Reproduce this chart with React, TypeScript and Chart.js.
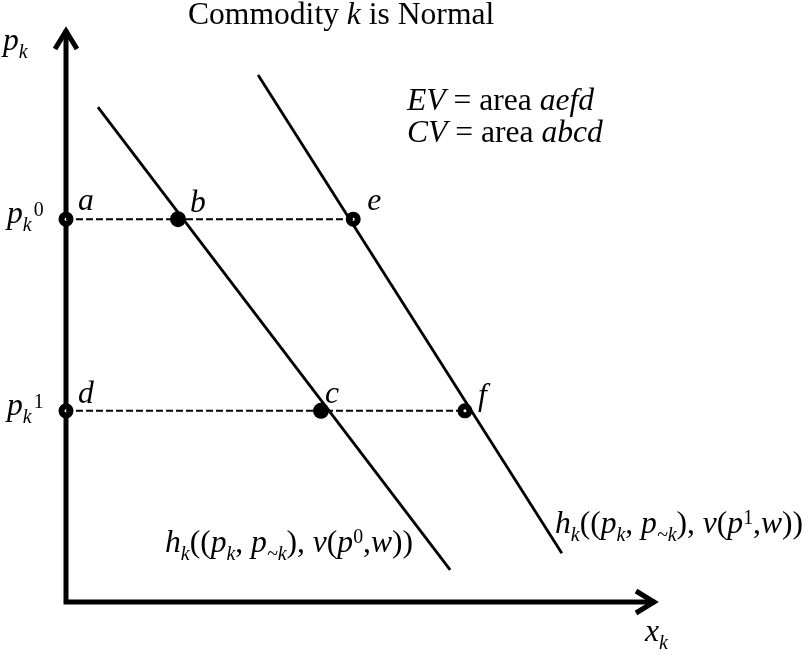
import React, { useEffect, useRef } from "react";
import { Chart, registerables } from "chart.js";

Chart.register(...registerables);

// ---- data (axis units: 0..100 on both axes) ----
const PRICE_P0 = 66.7;
const PRICE_P1 = 33.3;

// Hicksian demand curves (endpoints)
const demandV0X = [5.4, 65.0];
const demandV0Y = [86.2, 5.6];
const demandV1X = [32.5, 83.9];
const demandV1Y = [91.8, 8.5];

// labelled points
const pointNames = ["a", "b", "e", "d", "c", "f"];
const pointX = [0, 18.95, 48.6, 0, 43.15, 67.5];
const pointY = [PRICE_P0, PRICE_P0, PRICE_P0, PRICE_P1, PRICE_P1, PRICE_P1];
const pointFilled = [false, true, false, false, true, false];

// dashed price lines: end x for p0 and p1
const priceLineEnds = [48.6, 67.5];

const FONT = '"Liberation Serif", "Times New Roman", serif';
const BASE = 31.6;
const SMALL = 0.63;

type Run = { t: string; i?: boolean; s?: "sub" | "sup" };

function drawRich(ctx: CanvasRenderingContext2D, x: number, y: number, runs: Run[], size = BASE) {
  let cx = x;
  for (const r of runs) {
    let fs = size;
    let dy = 0;
    if (r.s === "sub") {
      fs = size * SMALL;
      dy = size * 0.26;
    } else if (r.s === "sup") {
      fs = size * SMALL;
      dy = -size * 0.3;
    }
    ctx.font = `${r.i ? "italic " : ""}${fs}px ${FONT}`;
    ctx.fillText(r.t, cx, y + dy);
    cx += ctx.measureText(r.t).width;
  }
}

const pointLabelOffsets: Record<string, [number, number]> = {
  a: [12, -9],
  b: [12, -7],
  e: [14, -9],
  d: [12, -8],
  c: [4, -8],
  f: [13, -6],
};

const hLabel = (sup: string): Run[] => [
  { t: "h", i: true },
  { t: "k", i: true, s: "sub" },
  { t: "((" },
  { t: "p", i: true },
  { t: "k", i: true, s: "sub" },
  { t: ", " },
  { t: "p", i: true },
  { t: "~k", i: true, s: "sub" },
  { t: "), " },
  { t: "v", i: true },
  { t: "(" },
  { t: "p", i: true },
  { t: sup, s: "sup" },
  { t: "," },
  { t: "w", i: true },
  { t: "))" },
];

const diagramPlugin = {
  id: "diagram",
  beforeDatasetsDraw(chart: any) {
    const { ctx, scales } = chart;
    const xs = scales.x;
    const ys = scales.y;
    const x0 = xs.getPixelForValue(0);
    const y0 = ys.getPixelForValue(0);
    const xEnd = xs.getPixelForValue(100);
    const yEnd = ys.getPixelForValue(100);
    ctx.save();
    ctx.strokeStyle = "#000";
    ctx.lineWidth = 5;
    ctx.lineCap = "butt";
    ctx.beginPath();
    ctx.moveTo(x0, yEnd + 2);
    ctx.lineTo(x0, y0);
    ctx.lineTo(xEnd - 2, y0);
    ctx.stroke();
    ctx.lineJoin = "miter";
    // arrow heads
    ctx.beginPath();
    ctx.moveTo(x0 - 11, yEnd + 21);
    ctx.lineTo(x0, yEnd + 3);
    ctx.lineTo(x0 + 11, yEnd + 21);
    ctx.stroke();
    ctx.beginPath();
    ctx.moveTo(xEnd - 21, y0 - 11);
    ctx.lineTo(xEnd - 3, y0);
    ctx.lineTo(xEnd - 21, y0 + 11);
    ctx.stroke();
    ctx.restore();
  },
  afterDatasetsDraw(chart: any) {
    const { ctx, scales } = chart;
    const xs = scales.x;
    const ys = scales.y;
    ctx.save();
    ctx.fillStyle = "#000";
    ctx.textBaseline = "alphabetic";
    ctx.textAlign = "left";
    // title
    drawRich(ctx, 188, 24, [{ t: "Commodity " }, { t: "k", i: true }, { t: " is Normal" }]);
    // axis labels
    drawRich(ctx, 3, 50, [{ t: "p", i: true }, { t: "k", i: true, s: "sub" }]);
    drawRich(ctx, 645, 641, [{ t: "x", i: true }, { t: "k", i: true, s: "sub" }]);
    // price labels
    const priceLabel = (v: number, sup: string) => {
      const py = ys.getPixelForValue(v) + 4;
      ctx.font = `italic ${BASE}px ${FONT}`;
      ctx.fillText("p", 7, py);
      const pw = ctx.measureText("p").width;
      ctx.font = `italic ${BASE * SMALL}px ${FONT}`;
      ctx.fillText("k", 7 + pw, py + 8);
      const kw = ctx.measureText("k").width;
      ctx.font = `${BASE * SMALL}px ${FONT}`;
      ctx.fillText(sup, 7 + pw + kw + 2, py - 7);
    };
    priceLabel(PRICE_P0, "0");
    priceLabel(PRICE_P1, "1");
    // point labels
    pointNames.forEach((n, i) => {
      const [dx, dy] = pointLabelOffsets[n];
      const px = xs.getPixelForValue(pointX[i]) + dx;
      const py = ys.getPixelForValue(pointY[i]) + dy;
      drawRich(ctx, px, py, [{ t: n, i: true }]);
    });
    // EV / CV
    drawRich(ctx, 407, 110, [{ t: "EV", i: true }, { t: " = area " }, { t: "aefd", i: true }]);
    drawRich(ctx, 407, 142, [{ t: "CV", i: true }, { t: " = area " }, { t: "abcd", i: true }]);
    // curve labels
    drawRich(ctx, 165, 552, hLabel("0"));
    drawRich(ctx, 555, 533, hLabel("1"));
    ctx.restore();
  },
};

export default function App() {
  const ref = useRef<HTMLCanvasElement | null>(null);
  useEffect(() => {
    if (!ref.current) return;
    const lineDs = (xs: number[], ys: number[], dash: number[], width: number) => ({
      data: xs.map((x, i) => ({ x, y: ys[i] })),
      showLine: true,
      borderColor: "#000",
      borderWidth: width,
      borderDash: dash,
      pointRadius: 0,
      clip: false,
    });
    const filledIdx = pointNames.map((_, i) => i).filter((i) => pointFilled[i]);
    const ringIdx = pointNames.map((_, i) => i).filter((i) => !pointFilled[i]);
    const chart = new Chart(ref.current, {
      type: "scatter",
      data: {
        datasets: [
          lineDs(demandV0X, demandV0Y, [], 2.8),
          lineDs(demandV1X, demandV1Y, [], 2.8),
          lineDs([0, priceLineEnds[0]], [PRICE_P0, PRICE_P0], [7, 3], 2),
          lineDs([0, priceLineEnds[1]], [PRICE_P1, PRICE_P1], [7, 3], 2),
          {
            data: ringIdx.map((i) => ({ x: pointX[i], y: pointY[i] })),
            pointRadius: 4.5,
            pointBorderWidth: 6,
            pointBackgroundColor: "#fff",
            pointBorderColor: "#000",
            showLine: false,
            clip: false,
          },
          {
            data: filledIdx.map((i) => ({ x: pointX[i], y: pointY[i] })),
            pointRadius: 8,
            pointBorderWidth: 0,
            pointBackgroundColor: "#000",
            pointBorderColor: "#000",
            showLine: false,
            clip: false,
          },
        ] as any,
      },
      options: {
        animation: false,
        responsive: false,
        devicePixelRatio: 1,
        layout: { padding: { left: 66, right: 152, top: 28, bottom: 54 } },
        scales: {
          x: { type: "linear", min: 0, max: 100, display: false },
          y: { type: "linear", min: 0, max: 100, display: false },
        },
        plugins: { legend: { display: false }, tooltip: { enabled: false }, title: { display: false } },
        events: [],
      },
      plugins: [diagramPlugin],
    });
    return () => chart.destroy();
  }, []);
  return (
    <div style={{ position: "fixed", left: 0, top: 0, width: 809, height: 656, background: "#fff" }}>
      <canvas ref={ref} width={809} height={656} style={{ display: "block" }} />
    </div>
  );
}
